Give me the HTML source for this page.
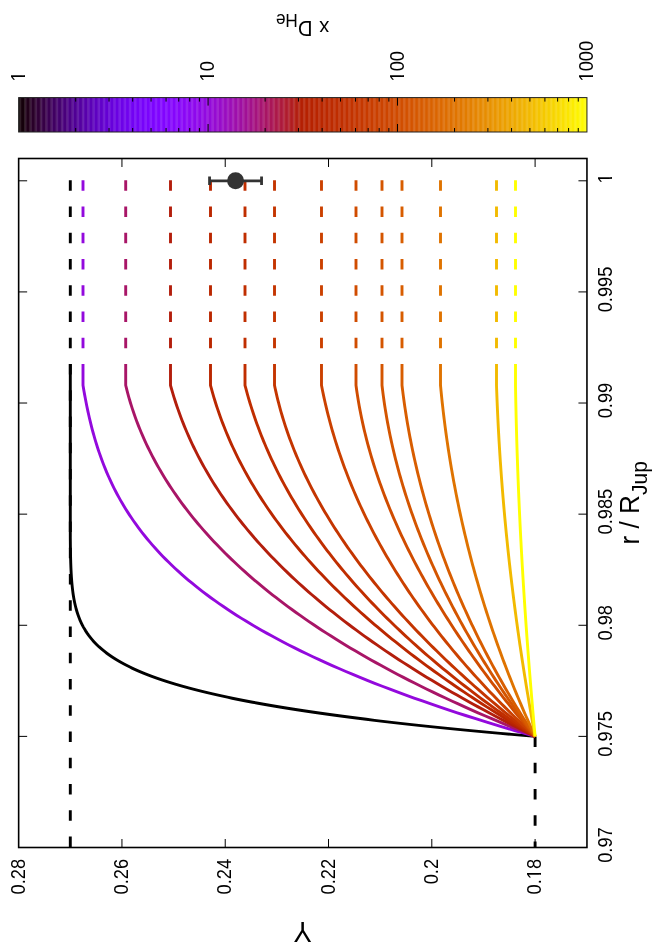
<!DOCTYPE html>
<html><head><meta charset="utf-8"><title>Y profile</title>
<style>html,body{margin:0;padding:0;background:#fff}svg{display:block;will-change:transform}text{font-family:"Liberation Sans",sans-serif;fill:#000}</style>
</head><body>
<svg width="664" height="949" viewBox="0 0 664 949">
<rect x="0" y="0" width="664" height="949" fill="#fff"/>
<g>
<rect x="18.65" y="97.6" width="2.02" height="34.40" fill="#090002"/>
<rect x="19.97" y="97.6" width="5.99" height="34.40" fill="#15000b"/>
<rect x="25.26" y="97.6" width="5.98" height="34.40" fill="#21001a"/>
<rect x="30.54" y="97.6" width="5.98" height="34.40" fill="#290029"/>
<rect x="35.82" y="97.6" width="5.97" height="34.40" fill="#300037"/>
<rect x="41.10" y="97.6" width="5.97" height="34.40" fill="#360046"/>
<rect x="46.37" y="97.6" width="5.97" height="34.40" fill="#3b0054"/>
<rect x="51.63" y="97.6" width="5.96" height="34.40" fill="#400062"/>
<rect x="56.89" y="97.6" width="5.96" height="34.40" fill="#44006f"/>
<rect x="62.15" y="97.6" width="5.95" height="34.40" fill="#49007c"/>
<rect x="67.40" y="97.6" width="5.95" height="34.40" fill="#4d0089"/>
<rect x="72.65" y="97.6" width="5.94" height="34.40" fill="#500095"/>
<rect x="77.89" y="97.6" width="5.94" height="34.40" fill="#5400a1"/>
<rect x="83.13" y="97.6" width="5.93" height="34.40" fill="#5800ac"/>
<rect x="88.36" y="97.6" width="5.93" height="34.40" fill="#5b01b7"/>
<rect x="93.59" y="97.6" width="5.92" height="34.40" fill="#5e01c1"/>
<rect x="98.82" y="97.6" width="5.92" height="34.40" fill="#6101ca"/>
<rect x="104.04" y="97.6" width="5.92" height="34.40" fill="#6401d3"/>
<rect x="109.26" y="97.6" width="5.91" height="34.40" fill="#6701db"/>
<rect x="114.47" y="97.6" width="5.91" height="34.40" fill="#6a01e2"/>
<rect x="119.67" y="97.6" width="5.90" height="34.40" fill="#6d02e8"/>
<rect x="124.88" y="97.6" width="5.90" height="34.40" fill="#7002ee"/>
<rect x="130.07" y="97.6" width="5.89" height="34.40" fill="#7202f3"/>
<rect x="135.27" y="97.6" width="5.89" height="34.40" fill="#7502f7"/>
<rect x="140.46" y="97.6" width="5.88" height="34.40" fill="#7703fa"/>
<rect x="145.64" y="97.6" width="5.88" height="34.40" fill="#7a03fd"/>
<rect x="150.82" y="97.6" width="5.88" height="34.40" fill="#7c03fe"/>
<rect x="156.00" y="97.6" width="5.87" height="34.40" fill="#7f04ff"/>
<rect x="161.17" y="97.6" width="5.87" height="34.40" fill="#8104ff"/>
<rect x="166.34" y="97.6" width="5.86" height="34.40" fill="#8305fe"/>
<rect x="171.50" y="97.6" width="5.86" height="34.40" fill="#8505fc"/>
<rect x="176.66" y="97.6" width="5.85" height="34.40" fill="#8806fa"/>
<rect x="181.81" y="97.6" width="5.85" height="34.40" fill="#8a06f6"/>
<rect x="186.96" y="97.6" width="5.84" height="34.40" fill="#8c07f2"/>
<rect x="192.10" y="97.6" width="5.84" height="34.40" fill="#8e08ed"/>
<rect x="197.24" y="97.6" width="5.84" height="34.40" fill="#9008e8"/>
<rect x="202.38" y="97.6" width="5.83" height="34.40" fill="#9209e1"/>
<rect x="207.51" y="97.6" width="5.83" height="34.40" fill="#940ada"/>
<rect x="212.64" y="97.6" width="5.82" height="34.40" fill="#960bd2"/>
<rect x="217.76" y="97.6" width="5.82" height="34.40" fill="#980bca"/>
<rect x="222.88" y="97.6" width="5.81" height="34.40" fill="#9a0cc0"/>
<rect x="227.99" y="97.6" width="5.81" height="34.40" fill="#9c0db7"/>
<rect x="233.10" y="97.6" width="5.81" height="34.40" fill="#9e0eac"/>
<rect x="238.21" y="97.6" width="5.80" height="34.40" fill="#9f0fa2"/>
<rect x="243.31" y="97.6" width="5.80" height="34.40" fill="#a11096"/>
<rect x="248.40" y="97.6" width="5.79" height="34.40" fill="#a3118a"/>
<rect x="253.50" y="97.6" width="5.79" height="34.40" fill="#a5137e"/>
<rect x="258.58" y="97.6" width="5.78" height="34.40" fill="#a71471"/>
<rect x="263.67" y="97.6" width="5.78" height="34.40" fill="#a81564"/>
<rect x="268.75" y="97.6" width="5.77" height="34.40" fill="#aa1657"/>
<rect x="273.82" y="97.6" width="5.77" height="34.40" fill="#ac1849"/>
<rect x="278.89" y="97.6" width="5.77" height="34.40" fill="#ad193c"/>
<rect x="283.96" y="97.6" width="5.76" height="34.40" fill="#af1b2e"/>
<rect x="289.02" y="97.6" width="5.76" height="34.40" fill="#b11c20"/>
<rect x="294.07" y="97.6" width="5.75" height="34.40" fill="#b21e11"/>
<rect x="299.13" y="97.6" width="5.75" height="34.40" fill="#b41f03"/>
<rect x="304.17" y="97.6" width="5.74" height="34.40" fill="#b62100"/>
<rect x="309.22" y="97.6" width="5.74" height="34.40" fill="#b72300"/>
<rect x="314.26" y="97.6" width="5.74" height="34.40" fill="#b92500"/>
<rect x="319.29" y="97.6" width="5.73" height="34.40" fill="#ba2700"/>
<rect x="324.32" y="97.6" width="5.73" height="34.40" fill="#bc2900"/>
<rect x="329.35" y="97.6" width="5.72" height="34.40" fill="#bd2b00"/>
<rect x="334.37" y="97.6" width="5.72" height="34.40" fill="#bf2d00"/>
<rect x="339.39" y="97.6" width="5.71" height="34.40" fill="#c02f00"/>
<rect x="344.40" y="97.6" width="5.71" height="34.40" fill="#c23100"/>
<rect x="349.41" y="97.6" width="5.70" height="34.40" fill="#c33300"/>
<rect x="354.42" y="97.6" width="5.70" height="34.40" fill="#c53600"/>
<rect x="359.42" y="97.6" width="5.70" height="34.40" fill="#c63800"/>
<rect x="364.42" y="97.6" width="5.69" height="34.40" fill="#c83b00"/>
<rect x="369.41" y="97.6" width="5.69" height="34.40" fill="#c93d00"/>
<rect x="374.40" y="97.6" width="5.68" height="34.40" fill="#ca4000"/>
<rect x="379.38" y="97.6" width="5.68" height="34.40" fill="#cc4300"/>
<rect x="384.36" y="97.6" width="5.67" height="34.40" fill="#cd4500"/>
<rect x="389.33" y="97.6" width="5.67" height="34.40" fill="#cf4800"/>
<rect x="394.30" y="97.6" width="5.67" height="34.40" fill="#d04b00"/>
<rect x="399.27" y="97.6" width="5.66" height="34.40" fill="#d14e00"/>
<rect x="404.23" y="97.6" width="5.66" height="34.40" fill="#d35100"/>
<rect x="409.19" y="97.6" width="5.65" height="34.40" fill="#d45400"/>
<rect x="414.14" y="97.6" width="5.65" height="34.40" fill="#d55800"/>
<rect x="419.09" y="97.6" width="5.65" height="34.40" fill="#d75b00"/>
<rect x="424.04" y="97.6" width="5.64" height="34.40" fill="#d85e00"/>
<rect x="428.98" y="97.6" width="5.64" height="34.40" fill="#d96200"/>
<rect x="433.92" y="97.6" width="5.63" height="34.40" fill="#db6500"/>
<rect x="438.85" y="97.6" width="5.63" height="34.40" fill="#dc6900"/>
<rect x="443.78" y="97.6" width="5.62" height="34.40" fill="#dd6d00"/>
<rect x="448.70" y="97.6" width="5.62" height="34.40" fill="#de7000"/>
<rect x="453.62" y="97.6" width="5.62" height="34.40" fill="#e07400"/>
<rect x="458.53" y="97.6" width="5.61" height="34.40" fill="#e17800"/>
<rect x="463.45" y="97.6" width="5.61" height="34.40" fill="#e27c00"/>
<rect x="468.35" y="97.6" width="5.60" height="34.40" fill="#e38000"/>
<rect x="473.26" y="97.6" width="5.60" height="34.40" fill="#e58500"/>
<rect x="478.15" y="97.6" width="5.59" height="34.40" fill="#e68900"/>
<rect x="483.05" y="97.6" width="5.59" height="34.40" fill="#e78d00"/>
<rect x="487.94" y="97.6" width="5.59" height="34.40" fill="#e89200"/>
<rect x="492.82" y="97.6" width="5.58" height="34.40" fill="#ea9600"/>
<rect x="497.71" y="97.6" width="5.58" height="34.40" fill="#eb9b00"/>
<rect x="502.58" y="97.6" width="5.57" height="34.40" fill="#eca000"/>
<rect x="507.46" y="97.6" width="5.57" height="34.40" fill="#eda500"/>
<rect x="512.33" y="97.6" width="5.56" height="34.40" fill="#eeaa00"/>
<rect x="517.19" y="97.6" width="5.56" height="34.40" fill="#efaf00"/>
<rect x="522.05" y="97.6" width="5.56" height="34.40" fill="#f1b400"/>
<rect x="526.91" y="97.6" width="5.55" height="34.40" fill="#f2b900"/>
<rect x="531.76" y="97.6" width="5.55" height="34.40" fill="#f3be00"/>
<rect x="536.61" y="97.6" width="5.54" height="34.40" fill="#f4c400"/>
<rect x="541.45" y="97.6" width="5.54" height="34.40" fill="#f5c900"/>
<rect x="546.29" y="97.6" width="5.54" height="34.40" fill="#f6cf00"/>
<rect x="551.13" y="97.6" width="5.53" height="34.40" fill="#f7d500"/>
<rect x="555.96" y="97.6" width="5.53" height="34.40" fill="#f9da00"/>
<rect x="560.79" y="97.6" width="5.52" height="34.40" fill="#fae000"/>
<rect x="565.61" y="97.6" width="5.52" height="34.40" fill="#fbe600"/>
<rect x="570.43" y="97.6" width="5.51" height="34.40" fill="#fcec00"/>
<rect x="575.24" y="97.6" width="5.51" height="34.40" fill="#fdf300"/>
<rect x="580.05" y="97.6" width="5.51" height="34.40" fill="#fef900"/>
<rect x="584.86" y="97.6" width="2.09" height="34.40" fill="#fffe00"/>
</g>
<path d="M19.97 97.6V132.0M25.26 97.6V132.0M30.54 97.6V132.0M35.82 97.6V132.0M41.10 97.6V132.0M46.37 97.6V132.0M51.63 97.6V132.0M56.89 97.6V132.0M62.15 97.6V132.0M67.40 97.6V132.0M72.65 97.6V132.0M77.89 97.6V132.0M83.13 97.6V132.0M88.36 97.6V132.0M93.59 97.6V132.0M98.82 97.6V132.0M104.04 97.6V132.0M109.26 97.6V132.0M114.47 97.6V132.0M119.67 97.6V132.0M124.88 97.6V132.0M130.07 97.6V132.0M135.27 97.6V132.0M140.46 97.6V132.0M145.64 97.6V132.0M150.82 97.6V132.0M156.00 97.6V132.0M161.17 97.6V132.0M166.34 97.6V132.0M171.50 97.6V132.0M176.66 97.6V132.0M181.81 97.6V132.0M186.96 97.6V132.0M192.10 97.6V132.0M197.24 97.6V132.0M202.38 97.6V132.0M207.51 97.6V132.0M212.64 97.6V132.0M217.76 97.6V132.0M222.88 97.6V132.0M227.99 97.6V132.0M233.10 97.6V132.0M238.21 97.6V132.0M243.31 97.6V132.0M248.40 97.6V132.0M253.50 97.6V132.0M258.58 97.6V132.0M263.67 97.6V132.0M268.75 97.6V132.0M273.82 97.6V132.0M278.89 97.6V132.0M283.96 97.6V132.0M289.02 97.6V132.0M294.07 97.6V132.0M299.13 97.6V132.0M304.17 97.6V132.0M309.22 97.6V132.0M314.26 97.6V132.0M319.29 97.6V132.0M324.32 97.6V132.0M329.35 97.6V132.0M334.37 97.6V132.0M339.39 97.6V132.0M344.40 97.6V132.0M349.41 97.6V132.0M354.42 97.6V132.0M359.42 97.6V132.0M364.42 97.6V132.0M369.41 97.6V132.0M374.40 97.6V132.0M379.38 97.6V132.0M384.36 97.6V132.0M389.33 97.6V132.0M394.30 97.6V132.0M399.27 97.6V132.0M404.23 97.6V132.0M409.19 97.6V132.0M414.14 97.6V132.0M419.09 97.6V132.0M424.04 97.6V132.0M428.98 97.6V132.0M433.92 97.6V132.0M438.85 97.6V132.0M443.78 97.6V132.0M448.70 97.6V132.0M453.62 97.6V132.0M458.53 97.6V132.0M463.45 97.6V132.0M468.35 97.6V132.0M473.26 97.6V132.0M478.15 97.6V132.0M483.05 97.6V132.0M487.94 97.6V132.0M492.82 97.6V132.0M497.71 97.6V132.0M502.58 97.6V132.0M507.46 97.6V132.0M512.33 97.6V132.0M517.19 97.6V132.0M522.05 97.6V132.0M526.91 97.6V132.0M531.76 97.6V132.0M536.61 97.6V132.0M541.45 97.6V132.0M546.29 97.6V132.0M551.13 97.6V132.0M555.96 97.6V132.0M560.79 97.6V132.0M565.61 97.6V132.0M570.43 97.6V132.0M575.24 97.6V132.0M580.05 97.6V132.0M584.86 97.6V132.0" stroke="#fff" stroke-width="2.6" stroke-opacity="0.115" fill="none"/>
<path d="M75.68 97.6v4M75.68 132.0v-4M109.03 97.6v4M109.03 132.0v-4M132.70 97.6v4M132.70 132.0v-4M151.06 97.6v4M151.06 132.0v-4M166.06 97.6v4M166.06 132.0v-4M178.74 97.6v4M178.74 132.0v-4M189.73 97.6v4M189.73 132.0v-4M199.42 97.6v4M199.42 132.0v-4M208.08 97.6v8M208.08 132.0v-8M265.11 97.6v4M265.11 132.0v-4M298.47 97.6v4M298.47 132.0v-4M322.13 97.6v4M322.13 132.0v-4M340.49 97.6v4M340.49 132.0v-4M355.49 97.6v4M355.49 132.0v-4M368.17 97.6v4M368.17 132.0v-4M379.16 97.6v4M379.16 132.0v-4M388.85 97.6v4M388.85 132.0v-4M397.52 97.6v8M397.52 132.0v-8M454.54 97.6v4M454.54 132.0v-4M487.90 97.6v4M487.90 132.0v-4M511.57 97.6v4M511.57 132.0v-4M529.92 97.6v4M529.92 132.0v-4M544.92 97.6v4M544.92 132.0v-4M557.61 97.6v4M557.61 132.0v-4M568.59 97.6v4M568.59 132.0v-4M578.28 97.6v4M578.28 132.0v-4" stroke="#000" stroke-width="1" fill="none"/>
<rect x="18.65" y="97.6" width="568.30" height="34.40" fill="none" stroke="#222" stroke-width="1"/>
<path d="M70.30 180.20L70.30 847.50" stroke="#000" stroke-width="2.9" stroke-dasharray="10.5 15.75" fill="none"/>
<path d="M535.10 736.40L535.10 847.50" stroke="#000" stroke-width="2.9" stroke-dasharray="10.5 15.75" fill="none"/>
<path d="M535.10 736.40L523.31 735.39L511.77 734.39L500.48 733.38L489.44 732.38L478.64 731.37L468.07 730.37L457.74 729.36L447.63 728.36L437.75 727.35L428.09 726.35L418.64 725.34L409.41 724.34L400.38 723.33L391.56 722.33L382.94 721.32L374.52 720.32L366.29 719.31L358.25 718.31L350.40 717.30L342.73 716.30L335.24 715.29L327.92 714.29L320.78 713.28L313.81 712.28L307.00 711.27L300.36 710.27L293.87 709.26L287.54 708.26L281.37 707.25L275.34 706.25L269.47 705.24L263.73 704.24L258.14 703.23L252.69 702.23L247.37 701.22L242.19 700.22L237.13 699.21L232.21 698.21L227.41 697.20L222.73 696.20L218.17 695.19L213.73 694.19L209.40 693.18L205.19 692.18L201.08 691.17L197.09 690.17L193.19 689.16L189.41 688.16L185.72 687.15L182.13 686.15L178.64 685.14L175.24 684.14L171.93 683.13L168.71 682.13L165.58 681.12L162.54 680.12L159.58 679.11L156.71 678.11L153.91 677.10L151.19 676.10L148.55 675.09L145.98 674.09L143.49 673.08L141.07 672.08L138.71 671.07L136.43 670.07L134.21 669.06L132.05 668.06L129.96 667.05L127.93 666.05L125.96 665.04L124.05 664.04L122.20 663.03L120.40 662.03L118.65 661.02L116.96 660.02L115.32 659.01L113.73 658.01L112.19 657.00L110.70 656.00L109.25 654.99L107.85 653.99L106.49 652.98L105.17 651.97L103.90 650.97L102.67 649.96L101.48 648.96L100.32 647.95L99.20 646.95L98.12 645.94L97.08 644.94L96.06 643.93L95.09 642.93L94.14 641.92L93.23 640.92L92.34 639.91L91.49 638.91L90.66 637.90L89.87 636.90L89.10 635.89L88.35 634.89L87.64 633.88L86.94 632.88L86.28 631.87L85.63 630.87L85.01 629.86L84.41 628.86L83.83 627.85L83.27 626.85L82.74 625.84L82.22 624.84L81.72 623.83L81.24 622.83L80.78 621.82L80.33 620.82L79.90 619.81L79.49 618.81L79.09 617.80L78.71 616.80L78.34 615.79L77.98 614.79L77.64 613.78L77.32 612.78L77.00 611.77L76.70 610.77L76.41 609.76L76.13 608.76L75.87 607.75L75.61 606.75L75.36 605.74L75.13 604.74L74.90 603.73L74.68 602.73L74.47 601.72L74.27 600.72L74.08 599.71L73.90 598.71L73.72 597.70L73.55 596.70L73.39 595.69L73.24 594.69L73.09 593.68L72.95 592.68L72.81 591.67L72.68 590.67L72.56 589.66L72.44 588.66L72.33 587.65L72.22 586.65L72.12 585.64L72.02 584.64L71.93 583.63L71.84 582.63L71.75 581.62L71.67 580.62L71.60 579.61L71.52 578.61L71.45 577.60L71.38 576.60L71.32 575.59L71.26 574.59L71.20 573.58L71.15 572.58L71.10 571.57L71.05 570.57L71.00 569.56L70.95 568.55L70.91 567.55L70.87 566.54L70.83 565.54L70.80 564.53L70.76 563.53L70.73 562.52L70.70 561.52L70.67 560.51L70.64 559.51L70.61 558.50L70.59 557.50L70.57 556.49L70.54 555.49L70.52 554.48L70.50 553.48L70.48 552.47L70.47 551.47L70.45 550.46L70.43 549.46L70.42 548.45L70.40 547.45L70.39 546.44L70.38 545.44L70.37 544.43L70.36 543.43L70.35 542.42L70.34 541.42L70.33 540.41L70.32 539.41L70.31 538.40L70.30 537.40L70.30 536.39L70.30 364.00" stroke="#000" stroke-width="2.9" fill="none" stroke-linejoin="round"/>
<path d="M535.10 736.40L524.76 733.45L514.60 730.50L504.62 727.55L494.81 724.60L485.17 721.65L475.71 718.70L466.41 715.75L457.28 712.80L448.32 709.84L439.51 706.89L430.87 703.94L422.39 700.99L414.06 698.04L405.89 695.09L397.87 692.14L390.00 689.19L382.28 686.24L374.71 683.29L367.28 680.34L359.99 677.39L352.85 674.44L345.84 671.49L338.98 668.54L332.25 665.59L325.65 662.63L319.18 659.68L312.85 656.73L306.64 653.78L300.56 650.83L294.61 647.88L288.78 644.93L283.07 641.98L277.48 639.03L272.00 636.08L266.65 633.13L261.41 630.18L256.28 627.23L251.26 624.28L246.35 621.33L241.55 618.38L236.86 615.42L232.27 612.47L227.79 609.52L223.40 606.57L219.12 603.62L214.93 600.67L210.84 597.72L206.85 594.77L202.95 591.82L199.14 588.87L195.42 585.92L191.79 582.97L188.25 580.02L184.79 577.07L181.42 574.12L178.14 571.17L174.93 568.21L171.80 565.26L168.76 562.31L165.79 559.36L162.89 556.41L160.07 553.46L157.33 550.51L154.65 547.56L152.05 544.61L149.52 541.66L147.05 538.71L144.65 535.76L142.31 532.81L140.04 529.86L137.83 526.91L135.69 523.96L133.60 521.00L131.57 518.05L129.60 515.10L127.68 512.15L125.82 509.20L124.02 506.25L122.26 503.30L120.56 500.35L118.91 497.40L117.31 494.45L115.75 491.50L114.24 488.55L112.78 485.60L111.36 482.65L109.99 479.70L108.66 476.75L107.37 473.80L106.12 470.84L104.91 467.89L103.74 464.94L102.60 461.99L101.50 459.04L100.44 456.09L99.41 453.14L98.41 450.19L97.44 447.24L96.51 444.29L95.61 441.34L94.73 438.39L93.89 435.44L93.07 432.49L92.27 429.54L91.51 426.59L90.77 423.63L90.05 420.68L89.35 417.73L88.68 414.78L88.03 411.83L87.40 408.88L86.79 405.93L86.20 402.98L85.62 400.03L85.06 397.08L84.52 394.13L84.00 391.18L83.49 388.23L83.00 385.28L83.00 364.00" stroke="#9309dd" stroke-width="2.9" fill="none" stroke-linejoin="round"/>
<path d="M83.00 180.20L83.00 364.00" stroke="#9309dd" stroke-width="2.9" stroke-dasharray="10.5 15.75" fill="none"/>
<path d="M535.10 736.40L527.63 733.45L520.25 730.50L512.98 727.55L505.80 724.60L498.72 721.65L491.73 718.70L484.84 715.75L478.04 712.80L471.33 709.84L464.72 706.89L458.20 703.94L451.76 700.99L445.42 698.04L439.16 695.09L432.99 692.14L426.90 689.19L420.90 686.24L414.99 683.29L409.15 680.34L403.40 677.39L397.73 674.44L392.15 671.49L386.64 668.54L381.21 665.59L375.85 662.63L370.58 659.68L365.38 656.73L360.26 653.78L355.21 650.83L350.23 647.88L345.33 644.93L340.50 641.98L335.74 639.03L331.05 636.08L326.43 633.13L321.88 630.18L317.40 627.23L312.99 624.28L308.64 621.33L304.36 618.38L300.14 615.42L295.99 612.47L291.90 609.52L287.88 606.57L283.91 603.62L280.01 600.67L276.17 597.72L272.40 594.77L268.68 591.82L265.02 588.87L261.41 585.92L257.87 582.97L254.38 580.02L250.95 577.07L247.58 574.12L244.26 571.17L241.00 568.21L237.79 565.26L234.63 562.31L231.53 559.36L228.47 556.41L225.48 553.46L222.53 550.51L219.63 547.56L216.78 544.61L213.98 541.66L211.24 538.71L208.54 535.76L205.88 532.81L203.28 529.86L200.72 526.91L198.21 523.96L195.75 521.00L193.33 518.05L190.95 515.10L188.62 512.15L186.34 509.20L184.10 506.25L181.90 503.30L179.75 500.35L177.64 497.40L175.57 494.45L173.54 491.50L171.55 488.55L169.61 485.60L167.70 482.65L165.84 479.70L164.01 476.75L162.23 473.80L160.48 470.84L158.78 467.89L157.11 464.94L155.48 461.99L153.89 459.04L152.34 456.09L150.82 453.14L149.34 450.19L147.90 447.24L146.49 444.29L145.12 441.34L143.79 438.39L142.49 435.44L141.23 432.49L140.00 429.54L138.81 426.59L137.65 423.63L136.53 420.68L135.44 417.73L134.39 414.78L133.37 411.83L132.38 408.88L131.43 405.93L130.51 402.98L129.63 400.03L128.77 397.08L127.96 394.13L127.17 391.18L126.42 388.23L125.70 385.28L125.70 364.00" stroke="#a81567" stroke-width="2.9" fill="none" stroke-linejoin="round"/>
<path d="M125.70 180.20L125.70 364.00" stroke="#a81567" stroke-width="2.9" stroke-dasharray="10.5 15.75" fill="none"/>
<path d="M535.10 736.40L529.14 733.45L523.23 730.50L517.39 727.55L511.60 724.60L505.88 721.65L500.21 718.70L494.60 715.75L489.05 712.80L483.56 709.84L478.13 706.89L472.76 703.94L467.44 700.99L462.18 698.04L456.98 695.09L451.83 692.14L446.74 689.19L441.71 686.24L436.73 683.29L431.80 680.34L426.94 677.39L422.12 674.44L417.36 671.49L412.66 668.54L408.01 665.59L403.41 662.63L398.87 659.68L394.38 656.73L389.94 653.78L385.56 650.83L381.23 647.88L376.95 644.93L372.72 641.98L368.54 639.03L364.42 636.08L360.34 633.13L356.32 630.18L352.35 627.23L348.42 624.28L344.55 621.33L340.72 618.38L336.95 615.42L333.22 612.47L329.54 609.52L325.91 606.57L322.33 603.62L318.80 600.67L315.31 597.72L311.87 594.77L308.48 591.82L305.14 588.87L301.84 585.92L298.58 582.97L295.38 580.02L292.21 577.07L289.10 574.12L286.02 571.17L283.00 568.21L280.01 565.26L277.07 562.31L274.18 559.36L271.33 556.41L268.52 553.46L265.75 550.51L263.03 547.56L260.35 544.61L257.71 541.66L255.11 538.71L252.56 535.76L250.04 532.81L247.57 529.86L245.14 526.91L242.74 523.96L240.39 521.00L238.08 518.05L235.80 515.10L233.57 512.15L231.37 509.20L229.22 506.25L227.10 503.30L225.02 500.35L222.98 497.40L220.97 494.45L219.00 491.50L217.07 488.55L215.18 485.60L213.32 482.65L211.50 479.70L209.71 476.75L207.96 473.80L206.24 470.84L204.56 467.89L202.92 464.94L201.30 461.99L199.73 459.04L198.18 456.09L196.67 453.14L195.19 450.19L193.75 447.24L192.34 444.29L190.96 441.34L189.61 438.39L188.29 435.44L187.01 432.49L185.75 429.54L184.53 426.59L183.34 423.63L182.18 420.68L181.05 417.73L179.95 414.78L178.87 411.83L177.83 408.88L176.82 405.93L175.83 402.98L174.87 400.03L173.94 397.08L173.04 394.13L172.17 391.18L171.32 388.23L170.50 385.28L170.50 364.00" stroke="#b31e0c" stroke-width="2.9" fill="none" stroke-linejoin="round"/>
<path d="M170.50 180.20L170.50 364.00" stroke="#b31e0c" stroke-width="2.9" stroke-dasharray="10.5 15.75" fill="none"/>
<path d="M535.10 736.40L530.06 733.45L525.07 730.50L520.12 727.55L515.22 724.60L510.37 721.65L505.55 718.70L500.79 715.75L496.06 712.80L491.38 709.84L486.75 706.89L482.16 703.94L477.61 700.99L473.11 698.04L468.65 695.09L464.23 692.14L459.86 689.19L455.53 686.24L451.24 683.29L447.00 680.34L442.80 677.39L438.64 674.44L434.52 671.49L430.44 668.54L426.41 665.59L422.42 662.63L418.47 659.68L414.56 656.73L410.69 653.78L406.86 650.83L403.08 647.88L399.33 644.93L395.63 641.98L391.96 639.03L388.34 636.08L384.75 633.13L381.21 630.18L377.71 627.23L374.24 624.28L370.82 621.33L367.43 618.38L364.08 615.42L360.78 612.47L357.51 609.52L354.28 606.57L351.09 603.62L347.93 600.67L344.82 597.72L341.74 594.77L338.70 591.82L335.70 588.87L332.74 585.92L329.81 582.97L326.92 580.02L324.07 577.07L321.25 574.12L318.47 571.17L315.73 568.21L313.03 565.26L310.36 562.31L307.72 559.36L305.13 556.41L302.57 553.46L300.04 550.51L297.55 547.56L295.09 544.61L292.67 541.66L290.29 538.71L287.94 535.76L285.62 532.81L283.34 529.86L281.10 526.91L278.88 523.96L276.70 521.00L274.56 518.05L272.45 515.10L270.37 512.15L268.33 509.20L266.32 506.25L264.34 503.30L262.39 500.35L260.48 497.40L258.60 494.45L256.76 491.50L254.94 488.55L253.16 485.60L251.41 482.65L249.69 479.70L248.00 476.75L246.34 473.80L244.72 470.84L243.13 467.89L241.56 464.94L240.03 461.99L238.53 459.04L237.06 456.09L235.62 453.14L234.21 450.19L232.83 447.24L231.48 444.29L230.16 441.34L228.87 438.39L227.61 435.44L226.37 432.49L225.17 429.54L224.00 426.59L222.85 423.63L221.73 420.68L220.64 417.73L219.58 414.78L218.55 411.83L217.55 408.88L216.57 405.93L215.62 402.98L214.70 400.03L213.80 397.08L212.94 394.13L212.10 391.18L211.28 388.23L210.50 385.28L210.50 364.00" stroke="#ba2700" stroke-width="2.9" fill="none" stroke-linejoin="round"/>
<path d="M210.50 180.20L210.50 364.00" stroke="#ba2700" stroke-width="2.9" stroke-dasharray="10.5 15.75" fill="none"/>
<path d="M535.10 736.40L530.67 733.45L526.28 730.50L521.93 727.55L517.62 724.60L513.35 721.65L509.11 718.70L504.92 715.75L500.76 712.80L496.64 709.84L492.56 706.89L488.52 703.94L484.52 700.99L480.55 698.04L476.62 695.09L472.73 692.14L468.87 689.19L465.06 686.24L461.28 683.29L457.53 680.34L453.82 677.39L450.15 674.44L446.52 671.49L442.92 668.54L439.36 665.59L435.83 662.63L432.34 659.68L428.89 656.73L425.47 653.78L422.09 650.83L418.74 647.88L415.43 644.93L412.15 641.98L408.91 639.03L405.70 636.08L402.53 633.13L399.39 630.18L396.28 627.23L393.21 624.28L390.17 621.33L387.17 618.38L384.20 615.42L381.27 612.47L378.36 609.52L375.50 606.57L372.66 603.62L369.86 600.67L367.09 597.72L364.35 594.77L361.65 591.82L358.98 588.87L356.34 585.92L353.73 582.97L351.15 580.02L348.61 577.07L346.10 574.12L343.62 571.17L341.17 568.21L338.75 565.26L336.37 562.31L334.01 559.36L331.69 556.41L329.40 553.46L327.13 550.51L324.90 547.56L322.70 544.61L320.53 541.66L318.39 538.71L316.28 535.76L314.20 532.81L312.14 529.86L310.12 526.91L308.13 523.96L306.17 521.00L304.23 518.05L302.33 515.10L300.45 512.15L298.60 509.20L296.78 506.25L294.99 503.30L293.23 500.35L291.49 497.40L289.78 494.45L288.11 491.50L286.45 488.55L284.83 485.60L283.23 482.65L281.66 479.70L280.12 476.75L278.61 473.80L277.12 470.84L275.66 467.89L274.22 464.94L272.81 461.99L271.43 459.04L270.08 456.09L268.75 453.14L267.44 450.19L266.16 447.24L264.91 444.29L263.68 441.34L262.48 438.39L261.30 435.44L260.15 432.49L259.02 429.54L257.92 426.59L256.84 423.63L255.79 420.68L254.76 417.73L253.75 414.78L252.77 411.83L251.82 408.88L250.88 405.93L249.97 402.98L249.09 400.03L248.22 397.08L247.38 394.13L246.57 391.18L245.77 388.23L245.00 385.28L245.00 364.00" stroke="#c02e00" stroke-width="2.9" fill="none" stroke-linejoin="round"/>
<path d="M245.00 180.20L245.00 364.00" stroke="#c02e00" stroke-width="2.9" stroke-dasharray="10.5 15.75" fill="none"/>
<path d="M535.10 736.40L531.32 733.45L527.57 730.50L523.85 727.55L520.15 724.60L516.48 721.65L512.83 718.70L509.22 715.75L505.63 712.80L502.07 709.84L498.54 706.89L495.03 703.94L491.55 700.99L488.10 698.04L484.67 695.09L481.27 692.14L477.90 689.19L474.56 686.24L471.24 683.29L467.95 680.34L464.68 677.39L461.45 674.44L458.24 671.49L455.06 668.54L451.90 665.59L448.78 662.63L445.67 659.68L442.60 656.73L439.55 653.78L436.53 650.83L433.54 647.88L430.58 644.93L427.64 641.98L424.73 639.03L421.84 636.08L418.98 633.13L416.15 630.18L413.35 627.23L410.57 624.28L407.82 621.33L405.10 618.38L402.40 615.42L399.73 612.47L397.09 609.52L394.48 606.57L391.89 603.62L389.33 600.67L386.79 597.72L384.28 594.77L381.80 591.82L379.35 588.87L376.92 585.92L374.52 582.97L372.15 580.02L369.80 577.07L367.48 574.12L365.19 571.17L362.92 568.21L360.68 565.26L358.47 562.31L356.29 559.36L354.13 556.41L352.00 553.46L349.89 550.51L347.81 547.56L345.76 544.61L343.73 541.66L341.74 538.71L339.77 535.76L337.82 532.81L335.90 529.86L334.01 526.91L332.15 523.96L330.31 521.00L328.50 518.05L326.71 515.10L324.95 512.15L323.22 509.20L321.52 506.25L319.84 503.30L318.19 500.35L316.57 497.40L314.97 494.45L313.40 491.50L311.85 488.55L310.33 485.60L308.84 482.65L307.38 479.70L305.94 476.75L304.53 473.80L303.14 470.84L301.78 467.89L300.45 464.94L299.15 461.99L297.87 459.04L296.62 456.09L295.39 453.14L294.19 450.19L293.02 447.24L291.87 444.29L290.75 441.34L289.66 438.39L288.59 435.44L287.55 432.49L286.54 429.54L285.55 426.59L284.59 423.63L283.66 420.68L282.75 417.73L281.87 414.78L281.01 411.83L280.18 408.88L279.38 405.93L278.61 402.98L277.86 400.03L277.13 397.08L276.44 394.13L275.77 391.18L275.12 388.23L274.51 385.28L274.51 364.00" stroke="#c43500" stroke-width="2.9" fill="none" stroke-linejoin="round"/>
<path d="M274.51 180.20L274.51 364.00" stroke="#c43500" stroke-width="2.9" stroke-dasharray="10.5 15.75" fill="none"/>
<path d="M535.10 736.40L531.93 733.45L528.78 730.50L525.66 727.55L522.56 724.60L519.49 721.65L516.45 718.70L513.43 715.75L510.44 712.80L507.47 709.84L504.53 706.89L501.61 703.94L498.72 700.99L495.86 698.04L493.02 695.09L490.20 692.14L487.41 689.19L484.65 686.24L481.91 683.29L479.19 680.34L476.50 677.39L473.84 674.44L471.20 671.49L468.58 668.54L465.99 665.59L463.42 662.63L460.88 659.68L458.36 656.73L455.87 653.78L453.40 650.83L450.95 647.88L448.53 644.93L446.13 641.98L443.76 639.03L441.41 636.08L439.08 633.13L436.78 630.18L434.50 627.23L432.24 624.28L430.01 621.33L427.80 618.38L425.62 615.42L423.46 612.47L421.32 609.52L419.20 606.57L417.11 603.62L415.04 600.67L412.99 597.72L410.97 594.77L408.97 591.82L406.99 588.87L405.04 585.92L403.10 582.97L401.19 580.02L399.31 577.07L397.44 574.12L395.60 571.17L393.78 568.21L391.98 565.26L390.20 562.31L388.45 559.36L386.72 556.41L385.01 553.46L383.32 550.51L381.65 547.56L380.01 544.61L378.38 541.66L376.78 538.71L375.20 535.76L373.64 532.81L372.10 529.86L370.59 526.91L369.09 523.96L367.62 521.00L366.17 518.05L364.73 515.10L363.32 512.15L361.93 509.20L360.56 506.25L359.22 503.30L357.89 500.35L356.58 497.40L355.29 494.45L354.03 491.50L352.78 488.55L351.56 485.60L350.35 482.65L349.17 479.70L348.00 476.75L346.86 473.80L345.73 470.84L344.63 467.89L343.54 464.94L342.48 461.99L341.43 459.04L340.41 456.09L339.40 453.14L338.41 450.19L337.45 447.24L336.50 444.29L335.57 441.34L334.66 438.39L333.77 435.44L332.90 432.49L332.04 429.54L331.21 426.59L330.40 423.63L329.60 420.68L328.82 417.73L328.07 414.78L327.33 411.83L326.60 408.88L325.90 405.93L325.22 402.98L324.55 400.03L323.90 397.08L323.27 394.13L322.66 391.18L322.07 388.23L321.49 385.28L321.49 364.00" stroke="#cb4100" stroke-width="2.9" fill="none" stroke-linejoin="round"/>
<path d="M321.49 180.20L321.49 364.00" stroke="#cb4100" stroke-width="2.9" stroke-dasharray="10.5 15.75" fill="none"/>
<path d="M535.10 736.40L532.60 733.45L530.11 730.50L527.64 727.55L525.18 724.60L522.74 721.65L520.31 718.70L517.90 715.75L515.51 712.80L513.13 709.84L510.76 706.89L508.41 703.94L506.08 700.99L503.76 698.04L501.46 695.09L499.17 692.14L496.90 689.19L494.64 686.24L492.40 683.29L490.18 680.34L487.97 677.39L485.78 674.44L483.60 671.49L481.44 668.54L479.30 665.59L477.17 662.63L475.06 659.68L472.97 656.73L470.89 653.78L468.83 650.83L466.78 647.88L464.75 644.93L462.74 641.98L460.74 639.03L458.76 636.08L456.80 633.13L454.85 630.18L452.92 627.23L451.00 624.28L449.11 621.33L447.23 618.38L445.37 615.42L443.52 612.47L441.69 609.52L439.88 606.57L438.08 603.62L436.31 600.67L434.55 597.72L432.80 594.77L431.08 591.82L429.37 588.87L427.68 585.92L426.00 582.97L424.35 580.02L422.71 577.07L421.09 574.12L419.48 571.17L417.90 568.21L416.33 565.26L414.78 562.31L413.24 559.36L411.73 556.41L410.23 553.46L408.75 550.51L407.29 547.56L405.85 544.61L404.42 541.66L403.02 538.71L401.63 535.76L400.26 532.81L398.90 529.86L397.57 526.91L396.25 523.96L394.96 521.00L393.68 518.05L392.42 515.10L391.18 512.15L389.95 509.20L388.75 506.25L387.56 503.30L386.40 500.35L385.25 497.40L384.12 494.45L383.01 491.50L381.92 488.55L380.84 485.60L379.79 482.65L378.76 479.70L377.74 476.75L376.74 473.80L375.77 470.84L374.81 467.89L373.87 464.94L372.95 461.99L372.05 459.04L371.17 456.09L370.31 453.14L369.47 450.19L368.65 447.24L367.85 444.29L367.06 441.34L366.30 438.39L365.56 435.44L364.84 432.49L364.13 429.54L363.45 426.59L362.79 423.63L362.14 420.68L361.52 417.73L360.92 414.78L360.33 411.83L359.77 408.88L359.23 405.93L358.71 402.98L358.20 400.03L357.72 397.08L357.26 394.13L356.82 391.18L356.40 388.23L356.00 385.28L356.00 364.00" stroke="#d04c00" stroke-width="2.9" fill="none" stroke-linejoin="round"/>
<path d="M356.00 180.20L356.00 364.00" stroke="#d04c00" stroke-width="2.9" stroke-dasharray="10.5 15.75" fill="none"/>
<path d="M535.10 736.40L532.89 733.45L530.70 730.50L528.53 727.55L526.37 724.60L524.22 721.65L522.09 718.70L519.98 715.75L517.88 712.80L515.80 709.84L513.73 706.89L511.67 703.94L509.64 700.99L507.61 698.04L505.61 695.09L503.61 692.14L501.64 689.19L499.68 686.24L497.73 683.29L495.80 680.34L493.88 677.39L491.99 674.44L490.10 671.49L488.23 668.54L486.38 665.59L484.54 662.63L482.72 659.68L480.91 656.73L479.12 653.78L477.34 650.83L475.58 647.88L473.84 644.93L472.11 641.98L470.39 639.03L468.69 636.08L467.01 633.13L465.34 630.18L463.69 627.23L462.05 624.28L460.43 621.33L458.83 618.38L457.24 615.42L455.66 612.47L454.11 609.52L452.56 606.57L451.04 603.62L449.52 600.67L448.03 597.72L446.55 594.77L445.08 591.82L443.63 588.87L442.20 585.92L440.78 582.97L439.38 580.02L437.99 577.07L436.62 574.12L435.27 571.17L433.93 568.21L432.60 565.26L431.30 562.31L430.01 559.36L428.73 556.41L427.47 553.46L426.22 550.51L424.99 547.56L423.78 544.61L422.58 541.66L421.40 538.71L420.24 535.76L419.09 532.81L417.95 529.86L416.84 526.91L415.73 523.96L414.65 521.00L413.58 518.05L412.52 515.10L411.48 512.15L410.46 509.20L409.45 506.25L408.46 503.30L407.49 500.35L406.53 497.40L405.59 494.45L404.66 491.50L403.75 488.55L402.85 485.60L401.98 482.65L401.11 479.70L400.27 476.75L399.43 473.80L398.62 470.84L397.82 467.89L397.04 464.94L396.27 461.99L395.52 459.04L394.79 456.09L394.07 453.14L393.36 450.19L392.68 447.24L392.01 444.29L391.35 441.34L390.72 438.39L390.09 435.44L389.49 432.49L388.90 429.54L388.33 426.59L387.77 423.63L387.23 420.68L386.70 417.73L386.20 414.78L385.70 411.83L385.23 408.88L384.77 405.93L384.32 402.98L383.90 400.03L383.49 397.08L383.09 394.13L382.71 391.18L382.35 388.23L382.00 385.28L382.00 364.00" stroke="#d45500" stroke-width="2.9" fill="none" stroke-linejoin="round"/>
<path d="M382.00 180.20L382.00 364.00" stroke="#d45500" stroke-width="2.9" stroke-dasharray="10.5 15.75" fill="none"/>
<path d="M535.10 736.40L533.17 733.45L531.25 730.50L529.35 727.55L527.46 724.60L525.59 721.65L523.73 718.70L521.88 715.75L520.05 712.80L518.23 709.84L516.43 706.89L514.65 703.94L512.87 700.99L511.11 698.04L509.37 695.09L507.64 692.14L505.92 689.19L504.22 686.24L502.54 683.29L500.86 680.34L499.20 677.39L497.56 674.44L495.93 671.49L494.31 668.54L492.71 665.59L491.12 662.63L489.55 659.68L487.99 656.73L486.44 653.78L484.91 650.83L483.39 647.88L481.89 644.93L480.40 641.98L478.92 639.03L477.46 636.08L476.01 633.13L474.58 630.18L473.16 627.23L471.75 624.28L470.36 621.33L468.98 618.38L467.62 615.42L466.27 612.47L464.93 609.52L463.60 606.57L462.29 603.62L461.00 600.67L459.71 597.72L458.45 594.77L457.19 591.82L455.95 588.87L454.72 585.92L453.51 582.97L452.30 580.02L451.12 577.07L449.94 574.12L448.78 571.17L447.64 568.21L446.50 565.26L445.38 562.31L444.28 559.36L443.18 556.41L442.10 553.46L441.04 550.51L439.98 547.56L438.94 544.61L437.92 541.66L436.90 538.71L435.90 535.76L434.91 532.81L433.94 529.86L432.98 526.91L432.03 523.96L431.10 521.00L430.18 518.05L429.27 515.10L428.38 512.15L427.49 509.20L426.62 506.25L425.77 503.30L424.93 500.35L424.10 497.40L423.28 494.45L422.48 491.50L421.69 488.55L420.91 485.60L420.14 482.65L419.39 479.70L418.65 476.75L417.92 473.80L417.21 470.84L416.51 467.89L415.82 464.94L415.15 461.99L414.48 459.04L413.83 456.09L413.20 453.14L412.57 450.19L411.96 447.24L411.36 444.29L410.78 441.34L410.20 438.39L409.64 435.44L409.09 432.49L408.56 429.54L408.03 426.59L407.52 423.63L407.02 420.68L406.54 417.73L406.06 414.78L405.60 411.83L405.15 408.88L404.71 405.93L404.29 402.98L403.88 400.03L403.48 397.08L403.09 394.13L402.72 391.18L402.35 388.23L402.00 385.28L402.00 364.00" stroke="#d85d00" stroke-width="2.9" fill="none" stroke-linejoin="round"/>
<path d="M402.00 180.20L402.00 364.00" stroke="#d85d00" stroke-width="2.9" stroke-dasharray="10.5 15.75" fill="none"/>
<path d="M535.10 736.40L533.74 733.45L532.39 730.50L531.05 727.55L529.72 724.60L528.40 721.65L527.10 718.70L525.80 715.75L524.51 712.80L523.23 709.84L521.97 706.89L520.71 703.94L519.46 700.99L518.23 698.04L517.00 695.09L515.78 692.14L514.58 689.19L513.38 686.24L512.19 683.29L511.02 680.34L509.85 677.39L508.69 674.44L507.55 671.49L506.41 668.54L505.28 665.59L504.17 662.63L503.06 659.68L501.96 656.73L500.88 653.78L499.80 650.83L498.73 647.88L497.68 644.93L496.63 641.98L495.59 639.03L494.56 636.08L493.54 633.13L492.53 630.18L491.53 627.23L490.54 624.28L489.56 621.33L488.59 618.38L487.63 615.42L486.68 612.47L485.74 609.52L484.81 606.57L483.88 603.62L482.97 600.67L482.07 597.72L481.17 594.77L480.29 591.82L479.41 588.87L478.54 585.92L477.69 582.97L476.84 580.02L476.00 577.07L475.17 574.12L474.35 571.17L473.54 568.21L472.74 565.26L471.95 562.31L471.17 559.36L470.39 556.41L469.63 553.46L468.87 550.51L468.12 547.56L467.39 544.61L466.66 541.66L465.94 538.71L465.23 535.76L464.53 532.81L463.84 529.86L463.15 526.91L462.48 523.96L461.81 521.00L461.16 518.05L460.51 515.10L459.87 512.15L459.24 509.20L458.62 506.25L458.01 503.30L457.40 500.35L456.81 497.40L456.22 494.45L455.65 491.50L455.08 488.55L454.52 485.60L453.97 482.65L453.42 479.70L452.89 476.75L452.36 473.80L451.85 470.84L451.34 467.89L450.84 464.94L450.35 461.99L449.87 459.04L449.39 456.09L448.93 453.14L448.47 450.19L448.02 447.24L447.58 444.29L447.15 441.34L446.72 438.39L446.31 435.44L445.90 432.49L445.50 429.54L445.11 426.59L444.73 423.63L444.36 420.68L443.99 417.73L443.63 414.78L443.28 411.83L442.94 408.88L442.61 405.93L442.28 402.98L441.97 400.03L441.66 397.08L441.36 394.13L441.06 391.18L440.78 388.23L440.50 385.28L440.50 364.00" stroke="#df7300" stroke-width="2.9" fill="none" stroke-linejoin="round"/>
<path d="M440.50 180.20L440.50 364.00" stroke="#df7300" stroke-width="2.9" stroke-dasharray="10.5 15.75" fill="none"/>
<path d="M535.10 736.40L534.56 733.45L534.02 730.50L533.48 727.55L532.95 724.60L532.42 721.65L531.90 718.70L531.38 715.75L530.86 712.80L530.34 709.84L529.83 706.89L529.33 703.94L528.82 700.99L528.32 698.04L527.83 695.09L527.34 692.14L526.85 689.19L526.36 686.24L525.88 683.29L525.41 680.34L524.93 677.39L524.46 674.44L524.00 671.49L523.53 668.54L523.07 665.59L522.62 662.63L522.17 659.68L521.72 656.73L521.28 653.78L520.83 650.83L520.40 647.88L519.96 644.93L519.53 641.98L519.11 639.03L518.69 636.08L518.27 633.13L517.85 630.18L517.44 627.23L517.03 624.28L516.63 621.33L516.23 618.38L515.83 615.42L515.44 612.47L515.05 609.52L514.67 606.57L514.29 603.62L513.91 600.67L513.54 597.72L513.16 594.77L512.80 591.82L512.44 588.87L512.08 585.92L511.72 582.97L511.37 580.02L511.02 577.07L510.68 574.12L510.34 571.17L510.00 568.21L509.67 565.26L509.34 562.31L509.01 559.36L508.69 556.41L508.37 553.46L508.06 550.51L507.75 547.56L507.44 544.61L507.14 541.66L506.84 538.71L506.54 535.76L506.25 532.81L505.96 529.86L505.68 526.91L505.40 523.96L505.12 521.00L504.85 518.05L504.58 515.10L504.31 512.15L504.05 509.20L503.79 506.25L503.54 503.30L503.29 500.35L503.04 497.40L502.80 494.45L502.56 491.50L502.33 488.55L502.10 485.60L501.87 482.65L501.64 479.70L501.42 476.75L501.21 473.80L501.00 470.84L500.79 467.89L500.58 464.94L500.38 461.99L500.18 459.04L499.99 456.09L499.80 453.14L499.62 450.19L499.43 447.24L499.26 444.29L499.08 441.34L498.91 438.39L498.75 435.44L498.58 432.49L498.42 429.54L498.27 426.59L498.12 423.63L497.97 420.68L497.83 417.73L497.69 414.78L497.55 411.83L497.42 408.88L497.29 405.93L497.17 402.98L497.04 400.03L496.93 397.08L496.82 394.13L496.71 391.18L496.60 388.23L496.50 385.28L496.50 364.00" stroke="#f2ba00" stroke-width="2.9" fill="none" stroke-linejoin="round"/>
<path d="M496.50 180.20L496.50 364.00" stroke="#f2ba00" stroke-width="2.9" stroke-dasharray="10.5 15.75" fill="none"/>
<path d="M535.10 736.40L534.83 733.45L534.56 730.50L534.30 727.55L534.03 724.60L533.77 721.65L533.51 718.70L533.25 715.75L532.99 712.80L532.74 709.84L532.48 706.89L532.23 703.94L531.98 700.99L531.73 698.04L531.48 695.09L531.24 692.14L530.99 689.19L530.75 686.24L530.51 683.29L530.27 680.34L530.03 677.39L529.79 674.44L529.56 671.49L529.32 668.54L529.09 665.59L528.86 662.63L528.63 659.68L528.41 656.73L528.18 653.78L527.96 650.83L527.74 647.88L527.52 644.93L527.30 641.98L527.09 639.03L526.87 636.08L526.66 633.13L526.45 630.18L526.24 627.23L526.03 624.28L525.82 621.33L525.62 618.38L525.42 615.42L525.22 612.47L525.02 609.52L524.82 606.57L524.63 603.62L524.43 600.67L524.24 597.72L524.05 594.77L523.86 591.82L523.68 588.87L523.49 585.92L523.31 582.97L523.13 580.02L522.95 577.07L522.77 574.12L522.60 571.17L522.43 568.21L522.25 565.26L522.08 562.31L521.92 559.36L521.75 556.41L521.59 553.46L521.42 550.51L521.26 547.56L521.11 544.61L520.95 541.66L520.79 538.71L520.64 535.76L520.49 532.81L520.34 529.86L520.19 526.91L520.05 523.96L519.91 521.00L519.77 518.05L519.63 515.10L519.49 512.15L519.35 509.20L519.22 506.25L519.09 503.30L518.96 500.35L518.83 497.40L518.71 494.45L518.58 491.50L518.46 488.55L518.34 485.60L518.22 482.65L518.11 479.70L517.99 476.75L517.88 473.80L517.77 470.84L517.67 467.89L517.56 464.94L517.46 461.99L517.36 459.04L517.26 456.09L517.16 453.14L517.06 450.19L516.97 447.24L516.88 444.29L516.79 441.34L516.70 438.39L516.62 435.44L516.54 432.49L516.46 429.54L516.38 426.59L516.30 423.63L516.23 420.68L516.15 417.73L516.08 414.78L516.02 411.83L515.95 408.88L515.89 405.93L515.82 402.98L515.76 400.03L515.71 397.08L515.65 394.13L515.60 391.18L515.55 388.23L515.50 385.28L515.50 364.00" stroke="#ffff00" stroke-width="2.9" fill="none" stroke-linejoin="round"/>
<path d="M515.50 180.20L515.50 364.00" stroke="#ffff00" stroke-width="2.9" stroke-dasharray="10.5 15.75" fill="none"/>
<path d="M209.56 180.8H261.56M209.56 176.60000000000002v8.4M261.56 176.60000000000002v8.4" stroke="#333" stroke-width="2.8" fill="none"/>
<circle cx="235.56" cy="180.8" r="8.5" fill="#333"/>
<path d="M121.94 847.5v-8.5M121.94 158.5v8.5M225.23 847.5v-8.5M225.23 158.5v8.5M328.52 847.5v-8.5M328.52 158.5v8.5M431.81 847.5v-8.5M431.81 158.5v8.5M535.10 847.5v-8.5M535.10 158.5v8.5M18.65 736.38h8.5M586.95 736.38h-8.5M18.65 625.27h8.5M586.95 625.27h-8.5M18.65 514.15h8.5M586.95 514.15h-8.5M18.65 403.03h8.5M586.95 403.03h-8.5M18.65 291.92h8.5M586.95 291.92h-8.5M18.65 180.80h8.5M586.95 180.80h-8.5" stroke="#000" stroke-width="1" fill="none"/>
<rect x="18.65" y="158.5" width="568.30" height="689.00" fill="none" stroke="#000" stroke-width="1.6"/>
<g transform="translate(24.85 858.90) rotate(-90) scale(1 1.065)">
<text font-size="18.3" text-anchor="end">0.28</text>
</g>
<g transform="translate(128.14 858.90) rotate(-90) scale(1 1.065)">
<text font-size="18.3" text-anchor="end">0.26</text>
</g>
<g transform="translate(231.43 858.90) rotate(-90) scale(1 1.065)">
<text font-size="18.3" text-anchor="end">0.24</text>
</g>
<g transform="translate(334.72 858.90) rotate(-90) scale(1 1.065)">
<text font-size="18.3" text-anchor="end">0.22</text>
</g>
<g transform="translate(438.01 858.90) rotate(-90) scale(1 1.065)">
<text font-size="18.3" text-anchor="end">0.2</text>
</g>
<g transform="translate(541.30 858.90) rotate(-90) scale(1 1.065)">
<text font-size="18.3" text-anchor="end">0.18</text>
<rect x="-19.46" y="-2.25" width="3.62" height="2.9" fill="#fff"/>
<rect x="-14.06" y="-2.25" width="3.40" height="2.9" fill="#fff"/>
</g>
<g transform="translate(611.90 845.00) rotate(-90) scale(1 1.065)">
<text font-size="18.3" text-anchor="middle">0.97</text>
</g>
<g transform="translate(611.90 733.88) rotate(-90) scale(1 1.065)">
<text font-size="18.3" text-anchor="middle">0.975</text>
</g>
<g transform="translate(611.90 622.77) rotate(-90) scale(1 1.065)">
<text font-size="18.3" text-anchor="middle">0.98</text>
</g>
<g transform="translate(611.90 511.65) rotate(-90) scale(1 1.065)">
<text font-size="18.3" text-anchor="middle">0.985</text>
</g>
<g transform="translate(611.90 400.53) rotate(-90) scale(1 1.065)">
<text font-size="18.3" text-anchor="middle">0.99</text>
</g>
<g transform="translate(611.90 289.42) rotate(-90) scale(1 1.065)">
<text font-size="18.3" text-anchor="middle">0.995</text>
</g>
<g transform="translate(611.90 178.30) rotate(-90) scale(1 1.065)">
<text font-size="18.3" text-anchor="middle">1</text>
<rect x="-4.19" y="-2.25" width="3.62" height="2.9" fill="#fff"/>
<rect x="1.21" y="-2.25" width="3.40" height="2.9" fill="#fff"/>
</g>
<g transform="translate(25.05 81.50) rotate(-90) scale(1 1.065)">
<text font-size="18.3" text-anchor="start">1</text>
<rect x="0.90" y="-2.25" width="3.62" height="2.9" fill="#fff"/>
<rect x="6.30" y="-2.25" width="3.40" height="2.9" fill="#fff"/>
</g>
<g transform="translate(214.48 81.50) rotate(-90) scale(1 1.065)">
<text font-size="18.3" text-anchor="start">10</text>
<rect x="0.90" y="-2.25" width="3.62" height="2.9" fill="#fff"/>
<rect x="6.30" y="-2.25" width="3.40" height="2.9" fill="#fff"/>
</g>
<g transform="translate(403.92 81.50) rotate(-90) scale(1 1.065)">
<text font-size="18.3" text-anchor="start">100</text>
<rect x="0.90" y="-2.25" width="3.62" height="2.9" fill="#fff"/>
<rect x="6.30" y="-2.25" width="3.40" height="2.9" fill="#fff"/>
</g>
<g transform="translate(593.35 81.50) rotate(-90) scale(1 1.065)">
<text font-size="18.3" text-anchor="start">1000</text>
<rect x="0.90" y="-2.25" width="3.62" height="2.9" fill="#fff"/>
<rect x="6.30" y="-2.25" width="3.40" height="2.9" fill="#fff"/>
</g>
<text transform="translate(639.0 502.8) rotate(-90) scale(1 1.04)" font-size="26.2" text-anchor="middle">r / R<tspan font-size="21" dy="7.5">Jup</tspan></text>
<text transform="translate(302.7 922.3) rotate(180) scale(1 1.075)" font-size="27.4" text-anchor="middle">Y</text>
<text transform="translate(329.3 21.1) rotate(180) scale(1 1.0)" font-size="20.1">x</text>
<text transform="translate(312.4 21.1) rotate(180) scale(1 1.117)" font-size="20.1">D</text>
<text transform="translate(297.65 14.4) rotate(180) scale(1 1.05)" font-size="17.2" letter-spacing="-0.3">He</text>
</svg></body></html>
